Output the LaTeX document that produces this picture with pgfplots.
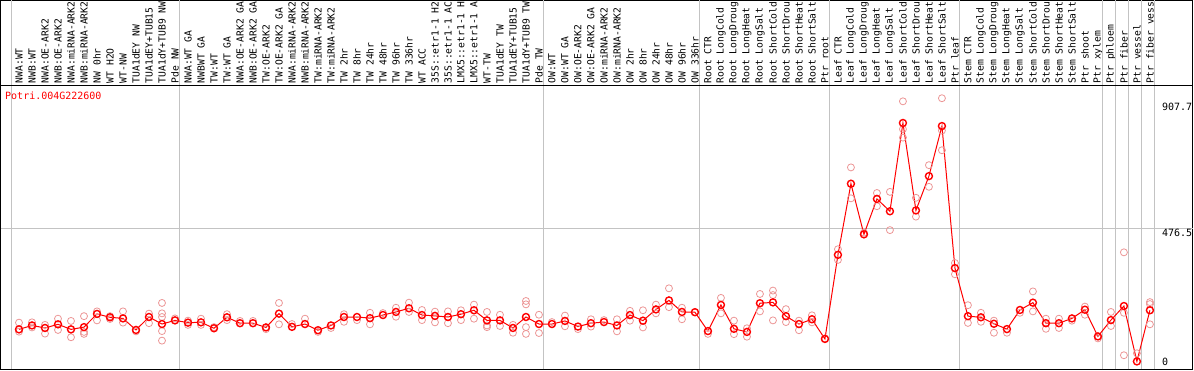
\documentclass[border=0pt]{standalone}
\usepackage{pgfplots}
\pgfplotsset{compat=1.18}
\usepackage{fontspec}
\setmainfont{DejaVu Sans Mono}
\definecolor{mainred}{RGB}{255,0,0}
\definecolor{repink}{RGB}{236,150,150}
\definecolor{gridgray}{RGB}{195,195,195}
\pgfplotstableread{
x y
1 116
2 130
3 121
4 134
5 116
6 124
7 171
8 159
9 155
10 114
11 160
12 135
13 148
14 140
15 141
16 120
17 159
18 138
19 138
20 123
21 172
22 125
23 135
24 113
25 130
26 160
27 160
28 156
29 167
30 178
31 191
32 167
33 164
34 160
35 170
36 184
37 148
38 148
39 121
40 160
41 135
42 135
43 146
44 126
45 138
46 142
47 130
48 167
49 147
50 187
51 219
52 178
53 177
54 110
55 203
56 118
57 107
58 209
59 212
60 163
61 135
62 152
63 82
64 381
65 634
66 454
67 580
68 536
69 850
70 539
71 661
72 839
73 334
74 163
75 159
76 136
77 117
78 185
79 211
80 138
81 138
82 155
83 186
84 91
85 149
86 199
87 2
88 184
}\maindata
\pgfplotstableread{
x y
1 140
1 108
2 141
2 123
3 132
3 101
4 154
4 114
5 146
5 88
6 163
6 100
6 107
7 180
7 148
8 163
8 153
9 180
9 140
10 109
11 172
11 138
12 210
12 173
12 160
12 110
12 76
13 155
14 147
14 132
15 154
15 132
16 124
17 170
17 149
18 146
19 146
20 117
21 210
21 134
22 135
23 154
24 107
25 121
26 170
26 143
27 149
28 175
28 134
29 174
30 193
30 161
31 211
31 178
32 185
32 149
33 179
33 141
34 180
34 138
35 184
35 149
36 204
36 154
37 178
37 130
37 124
38 168
38 128
39 132
39 104
40 217
40 205
40 124
40 100
41 168
41 103
42 142
43 165
43 127
44 117
45 152
45 126
46 149
47 152
47 109
48 182
48 147
49 184
49 123
50 204
50 173
51 262
51 195
52 193
52 152
53 178
54 100
55 228
55 173
56 147
56 99
57 120
57 90
58 242
58 180
59 254
59 238
59 148
60 188
60 142
61 147
61 113
62 166
62 141
63 84
64 401
64 363
65 692
65 582
66 460
67 601
67 554
68 605
68 469
69 927
69 828
69 798
70 584
70 517
71 700
71 623
72 938
72 823
72 753
73 352
73 312
74 202
74 139
75 175
75 143
76 147
76 104
77 104
78 175
79 251
79 180
80 154
80 118
81 154
81 121
82 147
83 197
83 168
84 84
85 178
85 128
86 390
86 175
86 24
87 31
87 -25
88 213
88 206
88 134
}\repdata
\begin{document}
\begin{tikzpicture}[x=1pt,y=1pt]
\useasboundingbox (0,0) rectangle (1194,370);
\begin{scope}
\clip (0,0) rectangle (1194,370);
\begin{axis}[
  at={(1pt,284pt)}, anchor=south west, scale only axis,
  width=1192pt, height=85.5pt,
  xmin=-0.3846, xmax=91.3077, ymin=0, ymax=1,
  ytick=\empty,
  xtick={1,...,88},
  xticklabels={{NWA:WT},{NWB:WT},{NWA:OE-ARK2},{NWB:OE-ARK2},{NWA:miRNA-ARK2},{NWB:miRNA-ARK2},{NW 0hr},{WT H2O},{WT-NW},{TUA1dEY NW},{TUA1dEY+TUB15},{TUA1dY+TUB9 NW},{Pde NW},
  {NWA:WT GA},{NWBWT GA},{TW:WT},{TW:WT GA},{NWA:OE-ARK2 GA},{NWB:OE-ARK2 GA},{TW:OE-ARK2},{TW:OE-ARK2 GA},{NWA:miRNA-ARK2},{NWB:miRNA-ARK2},{TW:miRNA-ARK2},{TW:miRNA-ARK2},{TW 2hr},{TW 8hr},{TW 24hr},{TW 48hr},{TW 96hr},{TW 336hr},{WT ACC},{35S::etr1-1 H2},{35S::etr1-1 AC},{LMX5::etr1-1 H},{LMX5::etr1-1 A},{WT-TW},{TUA1dEY TW},{TUA1dEY+TUB15},{TUA1dY+TUB9 TW},{Pde TW},
  {OW:WT},{OW:WT GA},{OW:OE-ARK2},{OW:OE-ARK2 GA},{OW:miRNA-ARK2},{OW:miRNA-ARK2},{OW 2hr},{OW 8hr},{OW 24hr},{OW 48hr},{OW 96hr},{OW 336hr},
  {Root CTR},{Root LongCold},{Root LongDroug},{Root LongHeat},{Root LongSalt},{Root ShortCold},{Root ShortDrou},{Root ShortHeat},{Root ShortSalt},{Ptr root},
  {Leaf CTR},{Leaf LongCold},{Leaf LongDroug},{Leaf LongHeat},{Leaf LongSalt},{Leaf ShortCold},{Leaf ShortDrou},{Leaf ShortHeat},{Leaf ShortSalt},{Ptr leaf},
  {Stem CTR},{Stem LongCold},{Stem LongDroug},{Stem LongHeat},{Stem LongSalt},{Stem ShortCold},{Stem ShortDrou},{Stem ShortHeat},{Stem ShortSalt},{Ptr shoot},{Ptr xylem},{Ptr phloem},{Ptr fiber},{Ptr vessel},{Ptr fiber vess}},
  major tick length=0pt,
  xticklabel style={yshift=2.5pt, rotate=90, anchor=west, inner sep=0pt, font=\fontsize{9.7}{11}\selectfont},
  extra x ticks={0.385,13.385,41.385,53.385,63.385,73.385,84.385,85.385,86.385,87.385,88.385},
  extra x tick labels={},
  extra x tick style={grid=major, major grid style={gridgray, line width=1pt}},
  axis line style={black, line width=1pt},
]
\end{axis}
\begin{axis}[
  at={(1pt,1pt)}, anchor=south west, scale only axis,
  width=1192pt, height=283pt,
  xmin=-0.3846, xmax=91.3077, ymin=-24.9, ymax=981.5,
  xtick=\empty,
  extra x ticks={0.385,13.385,41.385,53.385,63.385,73.385,84.385,85.385,86.385,87.385,88.385},
  extra x tick labels={},
  extra x tick style={grid=major, major grid style={gridgray, line width=1pt}},
  ytick={0,907.7}, yticklabels={0,907.7},
  yticklabel pos=right,
  yticklabel style={anchor=west, inner sep=0pt, xshift=-31pt, font=\fontsize{10}{12}\selectfont},
  extra y ticks={476.5}, extra y tick labels={476.5},
  extra y tick style={grid=major, major grid style={gridgray, line width=1pt}, yticklabel style={yshift=-4.7pt}},
  major tick length=0pt,
  axis line style={black, line width=1pt},
  clip=true,
]
\addplot[only marks, mark=o, mark size=3.5pt, repink, mark options={line width=0.8pt}] table[x=x,y=y] {\repdata};
\addplot[mainred, line width=1pt, mark=o, mark size=3.5pt, mark options={line width=1.4pt}] table[x=x,y=y] {\maindata};
\node[anchor=north west, text=mainred, inner sep=0pt, font=\fontsize{10}{12}\selectfont] at ([xshift=4pt,yshift=-6pt]rel axis cs:0,1) {Potri.004G222600};
\end{axis}
\end{scope}
\end{tikzpicture}
\end{document}
